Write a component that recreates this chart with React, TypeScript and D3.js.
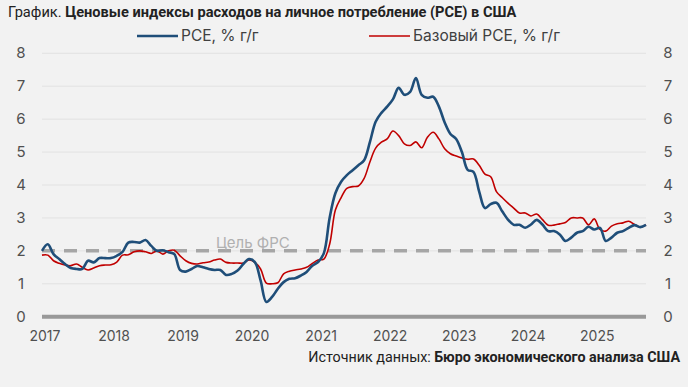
import React, { useEffect } from 'react';
import * as d3 from 'd3';

// monthly, Jan 2017 .. Oct 2025
const pce = [
  2.0, 2.2, 1.9, 1.75, 1.6, 1.48, 1.45, 1.45, 1.7, 1.65, 1.78, 1.78,
  1.78, 1.85, 1.97, 2.25, 2.27, 2.25, 2.33, 2.15, 2.0, 2.02, 1.96, 1.9,
  1.42, 1.37, 1.45, 1.54, 1.5, 1.45, 1.42, 1.42, 1.27, 1.3, 1.4, 1.6,
  1.75, 1.66, 1.1, 0.45, 0.6, 0.85, 1.05, 1.15, 1.17, 1.25, 1.36, 1.55,
  1.66, 1.93, 3.0, 3.75, 4.1, 4.3, 4.45, 4.6, 4.75, 5.3, 5.92, 6.19,
  6.38, 6.6, 6.95, 6.74, 6.83, 7.25, 6.74, 6.65, 6.68, 6.38, 5.9, 5.55,
  5.4, 5.0, 4.46, 4.4, 3.8, 3.3, 3.42, 3.46, 3.2, 2.95, 2.79, 2.79,
  2.7, 2.8, 2.94, 2.8, 2.6, 2.6, 2.5, 2.3, 2.4, 2.55, 2.6, 2.73,
  2.65, 2.7, 2.3, 2.4, 2.55, 2.6, 2.7, 2.78, 2.72, 2.79,
];
const corePce = [
  1.87, 1.87, 1.7, 1.62, 1.57, 1.55, 1.6, 1.5, 1.42, 1.48, 1.55, 1.57,
  1.58, 1.66, 1.87, 1.88, 1.97, 2.0, 1.97, 1.92, 2.0, 1.9, 2.0, 2.02,
  1.85, 1.7, 1.62, 1.6, 1.64, 1.66, 1.72, 1.75, 1.65, 1.63, 1.63, 1.63,
  1.72, 1.65, 1.45, 1.02, 1.0, 1.03, 1.3, 1.38, 1.42, 1.45, 1.5, 1.62,
  1.72, 1.75, 2.2, 3.24, 3.62, 3.9, 3.95, 3.97, 4.2, 4.7, 5.12, 5.3,
  5.4, 5.64, 5.5, 5.25, 5.2, 5.31, 5.13, 5.45, 5.6, 5.4, 5.1, 4.95,
  4.88, 4.82, 4.78, 4.79, 4.6, 4.33, 4.25, 3.8, 3.62, 3.45, 3.3, 3.15,
  3.15, 3.06, 3.12, 2.95, 2.78, 2.78, 2.82, 2.86, 3.0, 3.0, 3.0, 2.79,
  2.97, 2.65, 2.6, 2.75, 2.82, 2.85, 2.9, 2.8, 2.72, 2.79,
];
const yearLabels = ['2017', '2018', '2019', '2020', '2021', '2022', '2023', '2024', '2025'];
const yTicks = [0, 1, 2, 3, 4, 5, 6, 7, 8];
const fedTarget = 2;

const W = 688;
const H = 387;
const FONT = 'Inter, "Noto Sans", sans-serif';

export default function App() {
  useEffect(() => {
    document.body.style.margin = '0';
    document.body.style.background = '#f2f2f2';
  }, []);

  const x = d3.scaleLinear().domain([0, pce.length - 1]).range([42, 646]);
  const y = d3.scaleLinear().domain([0, 8]).range([316.7, 53.3]);

  const line = d3
    .line<number>()
    .x((_, i) => x(i))
    .y((d) => y(d))
    .curve(d3.curveCatmullRom.alpha(0.5));

  return (
    <svg width={W} height={H} style={{ display: 'block', background: '#f2f2f2' }}>
      {/* title */}
      <text x={8} y={17} fontFamily="Roboto, sans-serif" fontSize={14.6} fill="#222">
        <tspan>График. </tspan>
        <tspan fontWeight="bold">Ценовые индексы расходов на личное потребление (PCE) в США</tspan>
      </text>

      {/* legend */}
      <line x1={137} x2={178} y1={36} y2={36} stroke="#1f4e79" strokeWidth={2.5} />
      <text x={181} y={41} fontFamily={FONT} fontSize={15.5} fill="#404040">PCE, % г/г</text>
      <line x1={369} x2={410} y1={36} y2={36} stroke="#c00000" strokeWidth={1.6} />
      <text x={413} y={41} fontFamily={FONT} fontSize={15.5} fill="#404040">Базовый PCE, % г/г</text>

      {/* grid */}
      {yTicks.filter((t) => t > 0).map((t) => (
        <line key={t} x1={42} x2={646} y1={y(t)} y2={y(t)} stroke="#e2e2e2" strokeWidth={1} />
      ))}
      <line x1={42} x2={646} y1={y(0)} y2={y(0)} stroke="#999" strokeWidth={4} />

      {/* y labels */}
      {yTicks.map((t) => (
        <g key={t} fontFamily={FONT} fontSize={15} fill="#505050" textAnchor="middle">
          <text x={21} y={y(t) + 5}>{t}</text>
          <text x={668} y={y(t) + 5}>{t}</text>
        </g>
      ))}

      {/* x labels */}
      {yearLabels.map((l, i) => (
        <text key={l} x={x(i * 12) + 3} y={341} fontFamily={FONT} fontSize={14} fill="#505050" textAnchor="middle">
          {l}
        </text>
      ))}

      {/* Fed target */}
      <line x1={42} x2={646} y1={y(fedTarget)} y2={y(fedTarget)} stroke="#a6a6a6" strokeWidth={3.5} strokeDasharray="13 9" />
      <text x={216} y={248} fontFamily={FONT} fontSize={15} fill="#b0b0b0">Цель ФРС</text>

      {/* series */}
      <path d={line(corePce) ?? ''} fill="none" stroke="#c00000" strokeWidth={1.6} />
      <path d={line(pce) ?? ''} fill="none" stroke="#1f4e79" strokeWidth={2.6} />

      {/* source */}
      <text x={680} y={362} fontFamily="Roboto, sans-serif" fontSize={14.3} fill="#222" textAnchor="end">
        <tspan>Источник данных: </tspan>
        <tspan fontWeight="bold">Бюро экономического анализа США</tspan>
      </text>
    </svg>
  );
}
